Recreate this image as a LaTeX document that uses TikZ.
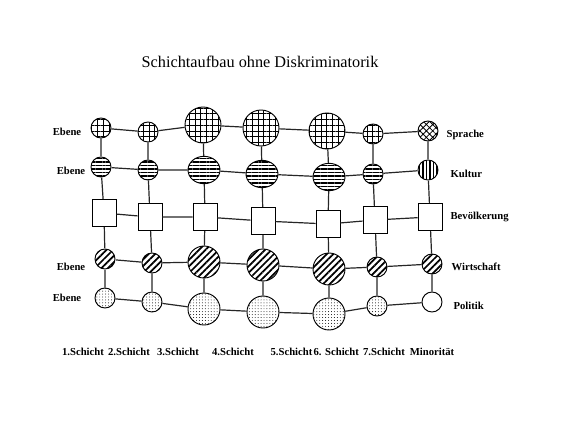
\documentclass[tikz,border=0pt]{standalone}
\usepackage{fontspec}
\setmainfont{Liberation Serif}
\usetikzlibrary{positioning}
\usetikzlibrary{patterns.meta}
\usetikzlibrary{shapes.geometric}

\begin{document}
\begin{tikzpicture}[x=0.75pt, y=-0.75pt,
    kreis/.style={circle, draw, line width=0.7pt, inner sep=0pt, minimum size=15pt},
    gross/.style={minimum size=24pt},
    riesig/.style={minimum size=27pt},
    sprache/.style={kreis, pattern={Hatch[distance=4.3pt, line width=0.5pt]}},
    kultur/.style={kreis, pattern={Lines[angle=0, distance=2.6pt, line width=1.1pt]}},
    kulturoval/.style={ellipse, draw, line width=0.7pt, inner sep=0pt, minimum width=24pt, minimum height=20.5pt, pattern={Lines[angle=0, distance=2.6pt, line width=1.1pt]}},
    feld/.style={rectangle, draw, line width=0.7pt, inner sep=0pt, minimum width=18pt, minimum height=20.5pt},
    wirtschaft/.style={kreis, pattern={Lines[angle=45, distance=3.5pt, line width=1.3pt]}},
    politik/.style={kreis, pattern={Dots[distance=2.2pt, radius=0.35pt]}},
    verb/.style={draw=black!85, line width=0.9pt},
    schrift/.style={font=\fontsize{8}{9}\selectfont\bfseries, inner sep=1pt}]
    \useasboundingbox (0,0) rectangle (572,429);

    % Title
    \node[font=\fontsize{12.2}{14}\selectfont] (titel) at (260,62) {Schichtaufbau ohne Diskriminatorik};

    % Sprache row
    \node[sprache] (s1) at (101,128) {};
    \node[sprache] (s2) at (148,132) {};
    \node[sprache, riesig] (s3) at (203,125) {};
    \node[sprache, riesig] (s4) at (261,128) {};
    \node[sprache, riesig] (s5) at (327,131) {};
    \node[sprache] (s6) at (373,134) {};
    \node[kreis, pattern={Hatch[angle=45, distance=3.4pt, line width=0.6pt]}] (s7) at (428,131) {};

    % Kultur row
    \node[kultur] (k1) at (101,167) {};
    \node[kultur] (k2) at (148,170) {};
    \node[kulturoval] (k3) at (204,170) {};
    \node[kulturoval] (k4) at (262,174) {};
    \node[kulturoval] (k5) at (329,177) {};
    \node[kultur] (k6) at (373,174) {};
    \node[kreis, pattern={Lines[angle=90, distance=2.6pt, line width=1.1pt]}] (k7) at (428,170) {};

    % Bevoelkerung row
    \node[feld] (b1) at (104,213) {};
    \node[feld] (b2) at (150,217) {};
    \node[feld] (b3) at (205,217) {};
    \node[feld] (b4) at (263,221) {};
    \node[feld] (b5) at (328,224) {};
    \node[feld] (b6) at (375,220) {};
    \node[feld] (b7) at (430,217) {};

    % Wirtschaft row
    \node[wirtschaft] (w1) at (105,259) {};
    \node[wirtschaft] (w2) at (152,263) {};
    \node[wirtschaft, gross] (w3) at (204,262) {};
    \node[wirtschaft, gross] (w4) at (263,265) {};
    \node[wirtschaft, gross] (w5) at (329,269) {};
    \node[wirtschaft] (w6) at (377,267) {};
    \node[wirtschaft] (w7) at (432,264) {};

    % Politik row
    \node[politik] (p1) at (105,298) {};
    \node[politik] (p2) at (152,302) {};
    \node[politik, gross] (p3) at (204,309) {};
    \node[politik, gross] (p4) at (263,312) {};
    \node[politik, gross] (p5) at (329,314) {};
    \node[politik] (p6) at (377,306) {};
    \node[kreis] (p7) at (432,302) {};

    % Rows
    \draw[verb] (s1) -- (s2) -- (s3) -- (s4) -- (s5) -- (s6) -- (s7);
    \draw[verb] (k1) -- (k2) -- (k3) -- (k4) -- (k5) -- (k6) -- (k7);
    \draw[verb] (b1) -- (b2) -- (b3) -- (b4) -- (b5) -- (b6) -- (b7);
    \draw[verb] (w1) -- (w2) -- (w3) -- (w4) -- (w5) -- (w6) -- (w7);
    \draw[verb] (p1) -- (p2) -- (p3) -- (p4) -- (p5) -- (p6) -- (p7);

    % Columns
    \draw[verb] (s1) -- (k1) -- (b1) -- (w1) -- (p1);
    \draw[verb] (s2) -- (k2) -- (b2) -- (w2) -- (p2);
    \draw[verb] (s3) -- (k3) -- (b3) -- (w3) -- (p3);
    \draw[verb] (s4) -- (k4) -- (b4) -- (w4) -- (p4);
    \draw[verb] (s5) -- (k5) -- (b5) -- (w5) -- (p5);
    \draw[verb] (s6) -- (k6) -- (b6) -- (w6) -- (p6);
    \draw[verb] (s7) -- (k7) -- (b7) -- (w7) -- (p7);

    % Left labels
    \node[schrift] (e1) at (67,132) {Ebene};
    \node[schrift] (e2) at (71,171) {Ebene};
    \node[schrift] (e4) at (71,267) {Ebene};
    \node[schrift] (e5) at (67,298) {Ebene};

    % Right labels
    \node[schrift, anchor=west] (lsprache) at (445,135) {Sprache};
    \node[schrift, anchor=west] (lkultur) at (449,174) {Kultur};
    \node[schrift, anchor=west] (lbevoelkerung) at (449,217) {Bevölkerung};
    \node[schrift, anchor=west] (lwirtschaft) at (450,267) {Wirtschaft};
    \node[schrift, anchor=west] (lpolitik) at (452,306) {Politik};

    % Bottom labels
    \node[schrift] (c1) at (83,352) {1.Schicht};
    \node[schrift] (c2) at (129,352) {2.Schicht};
    \node[schrift] (c3) at (178,352) {3.Schicht};
    \node[schrift] (c4) at (233,352) {4.Schicht};
    \node[schrift, anchor=west] (c5) at (269,352) {5.Schicht};
    \node[schrift, anchor=west] (c6) at (312,352) {6. Schicht};
    \node[schrift] (c7) at (384,352) {7.Schicht};
    \node[schrift] (c8) at (432,352) {Minorität};
\end{tikzpicture}
\end{document}
